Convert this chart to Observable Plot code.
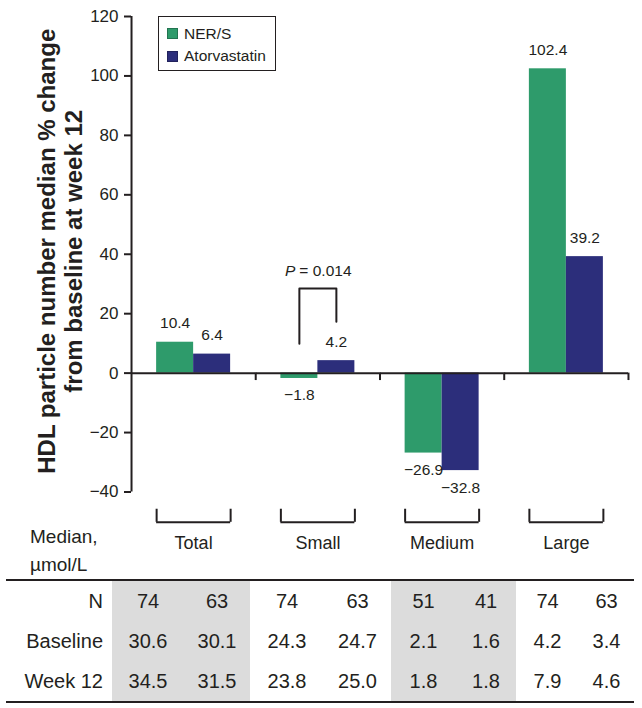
<!DOCTYPE html>
<html><head><meta charset="utf-8">
<script src="https://cdn.jsdelivr.net/npm/d3@7"></script>
<script src="https://cdn.jsdelivr.net/npm/@observablehq/plot@0.6"></script>
<style>
body{margin:0;background:#fff;font-family:'Liberation Sans',Arial,sans-serif;color:#231f20}
#wrap{position:relative;width:642px;height:708px;overflow:hidden}
#chart{position:absolute;left:0;top:0}
#legend{position:absolute;left:158px;top:16px;width:118px;height:55px;border:1px solid #231f20;box-sizing:border-box;font-size:15.5px;background:#fff}
.li{position:absolute;left:8px;display:flex;align-items:center;height:14px;white-space:nowrap}
.sw{width:11px;height:11px;margin-right:6px;box-sizing:border-box;border:1px solid rgba(0,0,0,0.25)}
#median{position:absolute;left:30px;top:523px;font-size:19px;line-height:28px}
#tbl{position:absolute;left:6px;top:579px;border-collapse:collapse;border-top:2px solid #231f20;border-bottom:2px solid #231f20;font-size:20px}
#tbl td{height:40px;padding:0;text-align:center}
#tbl td.lab{text-align:right;padding-right:9px}
#tbl td.sh{background:#dcdcdc}
</style>
</head><body>
<div id="wrap">
  <div id="chart"></div>
  <div id="legend"></div>
  <div id="median">Median,<br>µmol/L</div>
  <table id="tbl"></table>
</div>
<script>
// ---- data ----
const groups = ["Total", "Small", "Medium", "Large"];
const series = ["NER/S", "Atorvastatin"];
const nerValues = [10.4, -1.8, -26.9, 102.4];
const atorValues = [6.4, 4.2, -32.8, 39.2];
const yTicks = [-40, -20, 0, 20, 40, 60, 80, 100, 120];
const yLabel = "HDL particle number median % change\nfrom baseline at week 12";
const pLabel = "= 0.014";
const tableRowLabels = ["N", "Baseline", "Week 12"];
const nValues = ["74", "63", "74", "63", "51", "41", "74", "63"];
const baselineValues = ["30.6", "30.1", "24.3", "24.7", "2.1", "1.6", "4.2", "3.4"];
const week12Values = ["34.5", "31.5", "23.8", "25.0", "1.8", "1.8", "7.9", "4.6"];

// ---- styles ----
const green = "#2e9b6b", blue = "#2c2e7b";
const ink = "#231f20";

const data = groups.flatMap((g, i) => [
  {group: g, series: series[0], value: nerValues[i]},
  {group: g, series: series[1], value: atorValues[i]}
]);
const fmt = v => (v < 0 ? "\u2212" + Math.abs(v).toFixed(1) : v.toFixed(1));

// annotation geometry (data units)
const pBracket = [
  {series: "NER/S", y: 9.9},
  {series: "NER/S", y: 28.5},
  {series: "Atorvastatin", y: 28.5},
  {series: "Atorvastatin", y: 17.3}
];
const half = 18.5, edge = 43.6;

const chart = Plot.plot({
  width: 642,
  height: 575,
  marginLeft: 131,
  marginRight: 14,
  marginTop: 16,
  marginBottom: 83.5,
  style: {fontFamily: "'Liberation Sans', Arial, sans-serif", fontSize: "17px", color: ink, background: "transparent", overflow: "visible"},
  fx: {domain: groups, padding: 0, round: false, axis: null, label: null},
  x: {domain: series, paddingInner: 0, paddingOuter: 0.679, round: false, axis: null, label: null},
  y: {domain: [-40, 120], label: null},
  color: {domain: series, range: [green, blue]},
  marks: [
    Plot.barY(data, {fx: "group", x: "series", y: "value", fill: "series"}),
    Plot.ruleY([0], {strokeWidth: 2, stroke: ink}),
    // x-axis ticks at group boundaries
    Plot.ruleX(groups, {fx: d => d, x: () => "Atorvastatin", y1: 0, y2: -2.5, dx: edge, strokeWidth: 2, stroke: ink}),
    // y-axis line
    Plot.ruleX(["Total"], {fx: d => d, x: () => "NER/S", y1: -40, y2: 120, dx: -edge, strokeWidth: 2, stroke: ink}),
    Plot.axisY({ticks: yTicks, tickSize: 7, tickPadding: 6, strokeWidth: 2, stroke: ink, fontSize: 17, label: null}),
    // value labels
    Plot.text(data.filter(d => d.value >= 0), {fx: "group", x: "series", y: "value", text: d => fmt(d.value), dy: -19, fontSize: 15.5}),
    Plot.text(data.filter(d => d.value < 0), {fx: "group", x: "series", y: "value", text: d => fmt(d.value), dy: 17, fontSize: 15.5}),
    // group brackets
    Plot.ruleY(groups, {fx: d => d, x1: () => "NER/S", x2: () => "Atorvastatin", y: -50.2, strokeWidth: 2, stroke: ink}),
    Plot.ruleX(groups, {fx: d => d, x: () => "NER/S", y1: -45.8, y2: -50.2, dx: -half, strokeWidth: 2, stroke: ink}),
    Plot.ruleX(groups, {fx: d => d, x: () => "Atorvastatin", y1: -45.8, y2: -50.2, dx: half, strokeWidth: 2, stroke: ink}),
    Plot.text(groups, {fx: d => d, text: d => d, frameAnchor: "bottom", dy: 56.5, fontSize: 18}),
    // P-value bracket
    Plot.line(pBracket, {fx: () => "Small", x: "series", y: "y", strokeWidth: 2, stroke: ink}),
    Plot.text(["P"], {fx: () => "Small", x: () => "NER/S", y: () => 34.2, text: d => d, fontStyle: "italic", textAnchor: "end", dx: -4, fontSize: 15.5}),
    Plot.text([pLabel], {fx: () => "Small", x: () => "NER/S", y: () => 34.2, text: d => d, textAnchor: "start", dx: 0, fontSize: 15.5}),
    // y-axis title
    Plot.text([yLabel], {fx: () => "Total", frameAnchor: "left", text: d => d, rotate: -90, textAnchor: "middle", lineAnchor: "middle", dx: -71.5, dy: -3, fontSize: 24, fontWeight: "bold", lineHeight: 1.125})
  ]
});
document.getElementById("chart").appendChild(chart);

// legend
const legend = document.getElementById("legend");
[[series[0], green, 9.5], [series[1], blue, 32]].forEach(([name, col, top]) => {
  const item = document.createElement("div");
  item.className = "li";
  item.style.top = top + "px";
  item.innerHTML = `<span class="sw" style="background:${col}"></span><span>${name}</span>`;
  legend.appendChild(item);
});

// table
const colWidths = [106, 72, 66, 74, 67, 65, 60, 63, 55];
const shaded = [0, 1, 4, 5];
const tbl = document.getElementById("tbl");
[nValues, baselineValues, week12Values].forEach((vals, r) => {
  const tr = document.createElement("tr");
  const th = document.createElement("td");
  th.className = "lab";
  th.textContent = tableRowLabels[r];
  th.style.width = (colWidths[0] - 9) + "px";
  tr.appendChild(th);
  vals.forEach((v, j) => {
    const td = document.createElement("td");
    td.textContent = v;
    td.style.width = colWidths[j + 1] + "px";
    if (shaded.includes(j)) td.className = "sh";
    tr.appendChild(td);
  });
  tbl.appendChild(tr);
});
</script>
</body></html>
